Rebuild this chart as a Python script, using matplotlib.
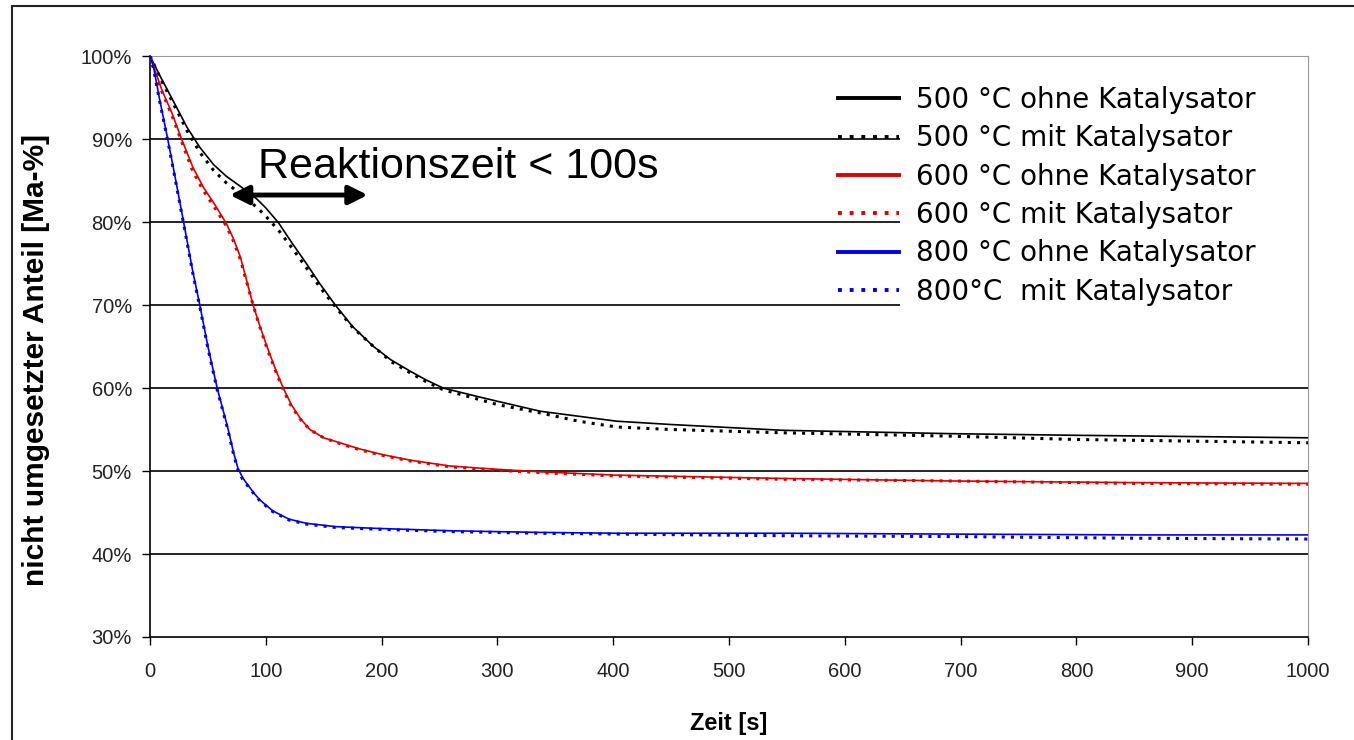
import numpy as np
import matplotlib
matplotlib.use("Agg")
import matplotlib.pyplot as plt
from matplotlib.patches import Rectangle

plt.rcParams['font.family'] = ['Liberation Sans', 'DejaVu Sans']

t_500 = [0, 9, 20, 32, 43, 55, 66, 78, 92, 100, 111, 122, 135, 147, 160, 175, 193, 208, 225, 238, 253,
         282, 300, 337, 370, 403, 450, 547, 620, 691, 800, 1000]
v_500_ohne = [100, 97.5, 94.6, 91.4, 89.0, 86.9, 85.5, 84.3, 82.8, 81.7, 79.9, 77.6, 75.0, 72.5, 70.0, 67.4,
              65.0, 63.4, 62.0, 61.0, 60.0, 59.0, 58.4, 57.2, 56.6, 56.0, 55.6, 54.9, 54.7, 54.5, 54.3, 54.0]
v_500_mit = [100, 97.3, 94.3, 91.0, 88.4, 86.2, 84.7, 83.4, 81.8, 80.7, 79.0, 77.0, 74.5, 72.1, 69.8, 67.3,
             65.0, 63.2, 61.8, 60.8, 59.8, 58.7, 58.0, 57.0, 56.0, 55.3, 55.0, 54.6, 54.4, 54.2, 53.8, 53.4]

t_600 = [0, 5, 10, 19, 27, 37, 46, 56, 66, 72, 78, 83, 89, 95, 101, 108, 115, 122, 130, 138, 150, 164,
         180, 200, 225, 259, 300, 337, 403, 547, 691, 850, 1000]
v_600_ohne = [100, 98.0, 96.0, 93.1, 90.1, 86.6, 84.2, 82.1, 79.8, 78.0, 75.8, 73.2, 70.0, 67.4, 65.0, 62.4,
              60.0, 58.0, 56.3, 55.0, 54.0, 53.4, 52.7, 52.0, 51.3, 50.6, 50.2, 49.9, 49.5, 49.1, 48.8, 48.6, 48.5]
v_600_mit = [100, 97.8, 95.8, 92.8, 89.8, 86.1, 83.8, 81.7, 79.5, 77.7, 75.5, 73.0, 70.0, 67.3, 64.8, 62.2,
             59.8, 57.8, 56.2, 55.0, 54.0, 53.3, 52.6, 51.9, 51.2, 50.5, 50.1, 49.8, 49.4, 49.0, 48.8, 48.5, 48.4]

t_800 = [0, 3, 8, 15, 22, 29, 37, 43, 50, 58, 67, 72, 76, 80, 84, 90, 95, 106, 120, 135, 160, 193, 259,
         337, 403, 550, 691, 850, 1000]
v_800_ohne = [100, 98.7, 95.0, 90.2, 85.2, 80.0, 74.0, 70.0, 65.0, 60.0, 55.3, 52.3, 50.3, 49.2, 48.4, 47.3,
              46.5, 45.2, 44.2, 43.7, 43.3, 43.1, 42.8, 42.6, 42.5, 42.5, 42.4, 42.3, 42.3]
v_800_mit = [100, 98.5, 94.8, 90.0, 85.0, 79.8, 73.8, 69.8, 64.8, 59.8, 55.1, 52.1, 50.1, 49.0, 48.3, 47.2,
             46.4, 45.1, 44.1, 43.6, 43.2, 43.0, 42.7, 42.5, 42.4, 42.2, 42.1, 41.9, 41.8]

labels = ['500 °C ohne Katalysator', '500 °C mit Katalysator',
          '600 °C ohne Katalysator', '600 °C mit Katalysator',
          '800 °C ohne Katalysator', '800°C  mit Katalysator']

y_ticks = [30, 40, 50, 60, 70, 80, 90, 100]
x_ticks = [0, 100, 200, 300, 400, 500, 600, 700, 800, 900, 1000]

fig = plt.figure(figsize=(13.54, 7.40), dpi=100)
ax = fig.add_axes([150/1354, 1-637/740, 1158/1354, 581/740])

# Rahmen um das ganze Diagramm
fig.patches.append(Rectangle((12/1354, -0.1), 1.2, 1.1 - 6/740, transform=fig.transFigure,
                             fill=False, edgecolor='#222222', lw=1.5, clip_on=False))

for y in y_ticks[1:-1]:
    ax.axhline(y, color='black', lw=1.2, zorder=1)

dot = (0, (1, 2))
h = []
h += ax.plot(t_500, v_500_ohne, color='black', lw=1.2, zorder=3)
h += ax.plot(t_500, v_500_mit, color='black', lw=2.2, ls=dot, zorder=3)
h += ax.plot(t_600, v_600_ohne, color='#e00000', lw=1.2, zorder=3)
h += ax.plot(t_600, v_600_mit, color='#e00000', lw=2.2, ls=dot, zorder=3)
h += ax.plot(t_800, v_800_ohne, color='#0000ee', lw=1.2, zorder=3)
h += ax.plot(t_800, v_800_mit, color='#0000ee', lw=2.2, ls=dot, zorder=3)

ax.set_xlim(0, 1000)
ax.set_ylim(30, 100)
ax.set_xticks(x_ticks)
ax.set_yticks(y_ticks)
ax.set_yticklabels([f'{v}%' for v in y_ticks])
ax.tick_params(direction='out', length=6, width=1, labelsize=14.5, labelcolor='#222222', pad=7)
ax.tick_params(axis='x', pad=12)
for s in ['top', 'right']:
    ax.spines[s].set_color('#999999')
for s in ['left', 'bottom']:
    ax.spines[s].set_linewidth(1.2)

ax.set_xlabel('Zeit [s]', fontsize=17, fontweight='bold', labelpad=22)
ax.set_ylabel('nicht umgesetzter Anteil [Ma-%]', fontsize=21.5, fontweight='bold', va='center')
ax.yaxis.set_label_coords(-0.0984, 0.477)

# weisser Hintergrund hinter der Legende
ax.add_patch(Rectangle((0.648, 0.565), 0.352, 0.4, transform=ax.transAxes,
                       facecolor='white', edgecolor='none', zorder=2))

leg = ax.legend(h, labels, loc='upper left', bbox_to_anchor=(0.594, 0.948), frameon=False,
                prop={'family': 'DejaVu Sans', 'size': 20}, handlelength=2.2,
                handletextpad=0.62, labelspacing=0.37, borderpad=0, borderaxespad=0)
for ln in leg.get_lines():
    ln.set_linewidth(2.8)

ax.text(93, 85.3, 'Reaktionszeit < 100s', fontsize=31, va='baseline', ha='left', zorder=4)
ax.annotate('', xy=(69, 83.25), xytext=(188, 83.25),
            arrowprops=dict(arrowstyle='<|-|>', lw=3.5, color='black', mutation_scale=28,
                            shrinkA=0, shrinkB=0), zorder=4)

fig.savefig('out.png', dpi=100, facecolor='white')
